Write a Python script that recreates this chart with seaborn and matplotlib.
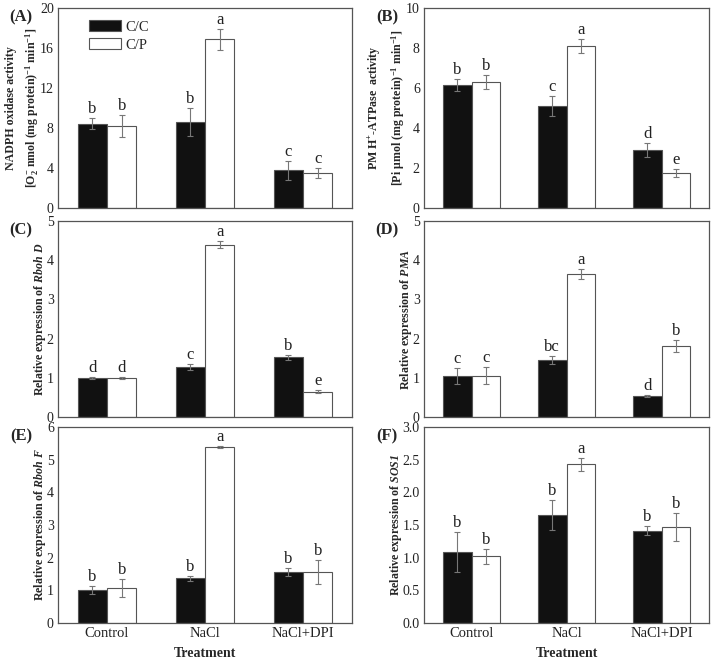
import numpy as np
import pandas as pd
import matplotlib
matplotlib.use("Agg")
import matplotlib.pyplot as plt
import seaborn as sns

sns.set_theme(style="white")
plt.rcParams['font.family'] = ['Liberation Serif', 'DejaVu Serif']
plt.rcParams['mathtext.fontset'] = 'custom'
plt.rcParams['mathtext.rm'] = 'Liberation Serif'
plt.rcParams['mathtext.it'] = 'Liberation Serif:italic'
plt.rcParams['mathtext.bf'] = 'Liberation Serif:bold'
plt.rcParams['mathtext.bfit'] = 'Liberation Serif:bold:italic'

treatments = ["Control", "NaCl", "NaCl+DPI"]
genotypes = ["C/C", "C/P"]

# Panel A: NADPH oxidase activity
a_cc = [8.4, 8.55, 3.75]
a_cp = [8.15, 16.85, 3.5]
a_cc_err = [0.55, 1.4, 0.95]
a_cp_err = [1.1, 1.05, 0.5]
a_cc_let = ["b", "b", "c"]
a_cp_let = ["b", "a", "c"]

# Panel B: PM H+-ATPase activity
b_cc = [6.15, 5.1, 2.88]
b_cp = [6.28, 8.08, 1.75]
b_cc_err = [0.3, 0.5, 0.35]
b_cp_err = [0.35, 0.35, 0.2]
b_cc_let = ["b", "c", "d"]
b_cp_let = ["b", "a", "e"]

# Panel C: Rboh D
c_cc = [1.0, 1.27, 1.52]
c_cp = [1.0, 4.4, 0.65]
c_cc_err = [0.02, 0.08, 0.07]
c_cp_err = [0.02, 0.08, 0.05]
c_cc_let = ["d", "c", "b"]
c_cp_let = ["d", "a", "e"]

# Panel D: PMA
d_cc = [1.04, 1.46, 0.54]
d_cp = [1.05, 3.65, 1.82]
d_cc_err = [0.2, 0.1, 0.02]
d_cp_err = [0.22, 0.12, 0.15]
d_cc_let = ["c", "bc", "d"]
d_cp_let = ["c", "a", "b"]

# Panel E: Rboh F
e_cc = [1.02, 1.37, 1.56]
e_cp = [1.08, 5.38, 1.57]
e_cc_err = [0.12, 0.08, 0.13]
e_cp_err = [0.28, 0.03, 0.37]
e_cc_let = ["b", "b", "b"]
e_cp_let = ["b", "a", "b"]

# Panel F: SOS1
f_cc = [1.09, 1.66, 1.41]
f_cp = [1.02, 2.43, 1.47]
f_cc_err = [0.31, 0.23, 0.07]
f_cp_err = [0.12, 0.1, 0.21]
f_cc_let = ["b", "b", "b"]
f_cp_let = ["b", "a", "b"]

panels = [
    dict(tag="(A)", cc=a_cc, cp=a_cp, ecc=a_cc_err, ecp=a_cp_err, lcc=a_cc_let, lcp=a_cp_let,
         ylim=(0, 20), yticks=[0, 4, 8, 12, 16, 20], fmt="{:g}",
         ylabel="NADPH oxidase activity\n[O$_\\mathbf{2}^\\mathbf{-}$ nmol (mg protein)$^\\mathbf{-1}$ min$^\\mathbf{-1}$]",
         rect=[0.0813, 0.6844, 0.4124, 0.3035], legend=True, xlab=False),
    dict(tag="(B)", cc=b_cc, cp=b_cp, ecc=b_cc_err, ecp=b_cp_err, lcc=b_cc_let, lcp=b_cp_let,
         ylim=(0, 10), yticks=[0, 2, 4, 6, 8, 10], fmt="{:g}",
         ylabel="PM H$^\\mathbf{+}$-ATPase  activity\n[Pi \u03bcmol (mg protein)$^\\mathbf{-1}$ min$^\\mathbf{-1}$]",
         rect=[0.5947, 0.6844, 0.3997, 0.3035], legend=False, xlab=False),
    dict(tag="(C)", cc=c_cc, cp=c_cp, ecc=c_cc_err, ecp=c_cp_err, lcc=c_cc_let, lcp=c_cp_let,
         ylim=(0, 5), yticks=[0, 1, 2, 3, 4, 5], fmt="{:g}",
         ylabel="Relative expression of $\\mathbfit{Rboh\\ D}$",
         rect=[0.0813, 0.3672, 0.4124, 0.2974], legend=False, xlab=False),
    dict(tag="(D)", cc=d_cc, cp=d_cp, ecc=d_cc_err, ecp=d_cp_err, lcc=d_cc_let, lcp=d_cp_let,
         ylim=(0, 5), yticks=[0, 1, 2, 3, 4, 5], fmt="{:g}",
         ylabel="Relative expression of $\\mathbfit{PMA}$",
         rect=[0.5947, 0.3672, 0.3997, 0.2974], legend=False, xlab=False),
    dict(tag="(E)", cc=e_cc, cp=e_cp, ecc=e_cc_err, ecp=e_cp_err, lcc=e_cc_let, lcp=e_cp_let,
         ylim=(0, 6), yticks=[0, 1, 2, 3, 4, 5, 6], fmt="{:g}",
         ylabel="Relative expression of $\\mathbfit{Rboh\\ F}$",
         rect=[0.0813, 0.0546, 0.4124, 0.2974], legend=False, xlab=True),
    dict(tag="(F)", cc=f_cc, cp=f_cp, ecc=f_cc_err, ecp=f_cp_err, lcc=f_cc_let, lcp=f_cp_let,
         ylim=(0, 3), yticks=[0, 0.5, 1.0, 1.5, 2.0, 2.5, 3.0], fmt="{:.1f}",
         ylabel="Relative expression of $\\mathbfit{SOS1}$",
         rect=[0.5947, 0.0546, 0.3997, 0.2974], legend=False, xlab=True),
]

fig = plt.figure(figsize=(7.13, 6.59), dpi=100)
edge = "#555555"

for p in panels:
    ax = fig.add_axes(p["rect"])
    df = pd.DataFrame({
        "Treatment": treatments * 2,
        "Genotype": [genotypes[0]] * 3 + [genotypes[1]] * 3,
        "value": list(p["cc"]) + list(p["cp"]),
    })
    sns.barplot(data=df, x="Treatment", y="value", hue="Genotype", order=treatments,
                hue_order=genotypes, palette={"C/C": "#111111", "C/P": "white"},
                width=0.6, errorbar=None, edgecolor=edge, linewidth=0.8,
                legend=p["legend"], ax=ax)
    yr = p["ylim"][1] - p["ylim"][0]
    for cont, errs, lets in zip(ax.containers, [p["ecc"], p["ecp"]], [p["lcc"], p["lcp"]]):
        xs = [b.get_x() + b.get_width() / 2 for b in cont]
        hs = [b.get_height() for b in cont]
        ax.errorbar(xs, hs, yerr=errs, fmt="none", ecolor="#777777", elinewidth=0.8,
                    capsize=2.2, capthick=0.8, zorder=3)
        for x, h, e, l in zip(xs, hs, errs, lets):
            ax.text(x, h + e + yr * 0.005, l, ha="center", va="bottom", fontsize=12,
                    color="#222222")
    ax.set_xlim(-0.5, 2.5)
    ax.set_ylim(*p["ylim"])
    ax.set_yticks(p["yticks"])
    ax.set_yticklabels([p["fmt"].format(t) for t in p["yticks"]], fontsize=10, color="#222222")
    ax.tick_params(axis="y", length=0, pad=3)
    ax.tick_params(axis="x", length=0, pad=3)
    for s in ax.spines.values():
        s.set_color(edge)
        s.set_linewidth(0.9)
    ax.set_ylabel(p["ylabel"], fontsize=8.6, fontweight="bold", labelpad=-1, linespacing=1.55)
    if p["xlab"]:
        ax.set_xticks(range(3))
        ax.set_xticklabels(treatments, fontsize=10.5, color="#222222")
        ax.set_xlabel("Treatment", fontsize=10, fontweight="bold", labelpad=5)
    else:
        ax.set_xticks([])
        ax.set_xlabel("")
    if p["legend"]:
        ax.legend(loc="upper left", bbox_to_anchor=(0.07, 0.99), frameon=False, fontsize=10.5,
                  handlelength=2.2, handleheight=0.8, handletextpad=0.3, labelspacing=0.3,
                  borderaxespad=0.3)
        for h in ax.get_legend().get_patches():
            h.set_edgecolor(edge)
    fig.text(p["rect"][0] - 0.052, p["rect"][1] + p["rect"][3] - 0.014, p["tag"],
             fontsize=12, fontweight="bold", ha="center", va="center")

fig.savefig("out.png", dpi=100)
